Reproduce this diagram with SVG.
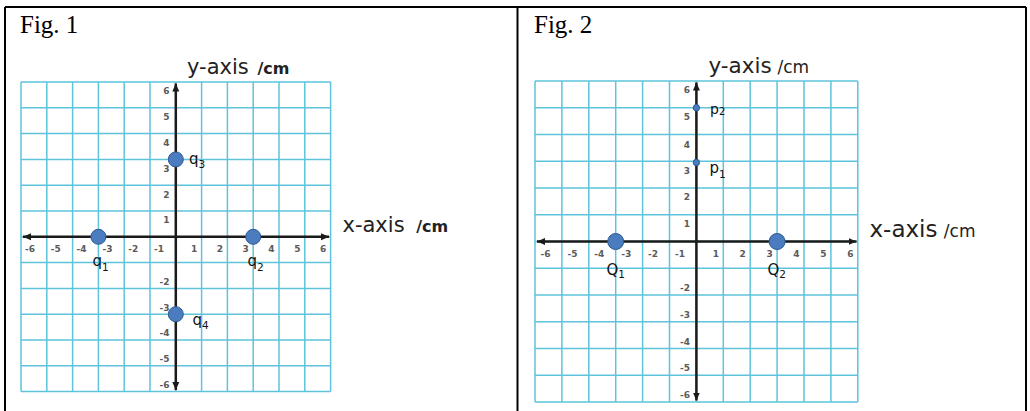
<svg xmlns="http://www.w3.org/2000/svg" width="1030" height="411" viewBox="0 0 1030 411">
<style>
.frame{fill:none;stroke:#000;stroke-width:2}
.grid{fill:none;stroke:#5ec4dc;stroke-width:1.5}
.axis{fill:none;stroke:#1a1a1a;stroke-width:2.5}
.tick{font-family:"DejaVu Sans",sans-serif;font-size:9px;font-weight:bold;fill:#5a5a5a}
.tx{text-anchor:middle}
.ty{text-anchor:end}
.title{font-family:"Liberation Serif",serif;font-size:25px;fill:#000}
.ax{font-family:"DejaVu Sans",sans-serif;fill:#222}
.lab{font-family:"DejaVu Sans",sans-serif;fill:#111}
.pt{fill:#4a7cbf;stroke:#2d5a92;stroke-width:1}
</style>
<defs>
<marker id="arr" markerUnits="userSpaceOnUse" markerWidth="10" markerHeight="10" refX="8" refY="4" orient="auto-start-reverse" viewBox="0 0 10 8">
<path d="M0,0.5 L8,4 L0,7.5 z" fill="#1a1a1a"/>
</marker>
</defs>
<rect width="1030" height="411" fill="#fff"/>
<g id="frame">
<path class="frame" d="M5,7 H1026 M5,7 V411 M517.5,7 V411 M1026,7 V411"/>
</g>
<g id="fig1">
<text class="title" x="20" y="33">Fig. 1</text>
<path class="grid" d="M21,82V391.6M46.8,82V391.6M72.6,82V391.6M98.4,82V391.6M124.2,82V391.6M150,82V391.6M175.8,82V391.6M201.6,82V391.6M227.4,82V391.6M253.2,82V391.6M279,82V391.6M304.8,82V391.6M330.6,82V391.6M21,82H330.6M21,107.8H330.6M21,133.6H330.6M21,159.4H330.6M21,185.2H330.6M21,211H330.6M21,236.8H330.6M21,262.6H330.6M21,288.4H330.6M21,314.2H330.6M21,340H330.6M21,365.8H330.6M21,391.6H330.6"/>
<g class="tick tx">
<text x="30" y="251.6">-6</text><text x="55.8" y="251.6">-5</text><text x="81.6" y="251.6">-4</text><text x="107.4" y="251.6">-3</text><text x="133.2" y="251.6">-2</text><text x="159" y="251.6">-1</text>
<text x="194.1" y="251.6">1</text><text x="219.9" y="251.6">2</text><text x="245.7" y="251.6">3</text><text x="271.5" y="251.6">4</text><text x="297.3" y="251.6">5</text><text x="323.1" y="251.6">6</text>
</g>
<g class="tick ty">
<text x="169.5" y="93.5">6</text><text x="169.5" y="120.1">5</text><text x="169.5" y="145.9">4</text><text x="169.5" y="171.7">3</text><text x="169.5" y="197.5">2</text><text x="169.5" y="223.3">1</text>
<text x="169.5" y="284.7">-2</text><text x="169.5" y="310.5">-3</text><text x="169.5" y="336.3">-4</text><text x="169.5" y="362.1">-5</text><text x="169.5" y="387.9">-6</text>
</g>
<text class="ax" x="187" y="74.3" font-size="21">y-axis <tspan font-size="16" font-weight="bold" dx="2">/cm</tspan></text>
<text class="ax" x="342.5" y="231.5" font-size="21">x-axis <tspan font-size="16" font-weight="bold" dx="5">/cm</tspan></text>
</g>
<g id="fig2">
<text class="title" x="534" y="33">Fig. 2</text>
<path class="grid" d="M535,81V402M561.9,81V402M588.8,81V402M615.7,81V402M642.6,81V402M669.5,81V402M696.4,81V402M723.3,81V402M750.2,81V402M777.1,81V402M804,81V402M830.9,81V402M857.8,81V402M535,81H857.8M535,107.75H857.8M535,134.5H857.8M535,161.25H857.8M535,188H857.8M535,214.75H857.8M535,241.5H857.8M535,268.25H857.8M535,295H857.8M535,321.75H857.8M535,348.5H857.8M535,375.25H857.8M535,402H857.8"/>
<g class="tick tx">
<text x="545.5" y="256.6">-6</text><text x="572.4" y="256.6">-5</text><text x="599.3" y="256.6">-4</text><text x="626.2" y="256.6">-3</text><text x="653.1" y="256.6">-2</text><text x="680" y="256.6">-1</text>
<text x="715.8" y="256.6">1</text><text x="742.7" y="256.6">2</text><text x="769.6" y="256.6">3</text><text x="796.5" y="256.6">4</text><text x="823.4" y="256.6">5</text><text x="850.3" y="256.6">6</text>
</g>
<g class="tick ty">
<text x="690" y="93">6</text><text x="690" y="120.3">5</text><text x="690" y="147.5">4</text><text x="690" y="173.5">3</text><text x="690" y="200">2</text><text x="690" y="227">1</text>
<text x="690" y="291.3">-2</text><text x="690" y="317.8">-3</text><text x="690" y="344.5">-4</text><text x="690" y="371">-5</text><text x="690" y="397.5">-6</text>
</g>
<text class="ax" x="708.5" y="73.3" font-size="21.5">y-axis <tspan font-size="17" dx="-1">/cm</tspan></text>
<text class="ax" x="869.5" y="237.3" font-size="23">x-axis <tspan font-size="17" dx="-1">/cm</tspan></text>
</g>
<g id="connectors">
<path class="axis" d="M23,236.8H329" marker-start="url(#arr)" marker-end="url(#arr)"/>
<path class="axis" d="M175.8,83.5V390" marker-start="url(#arr)" marker-end="url(#arr)"/>
<path class="axis" d="M537,241.5H856.5" marker-start="url(#arr)" marker-end="url(#arr)"/>
<path class="axis" d="M696.4,82.5V400.5" marker-start="url(#arr)" marker-end="url(#arr)"/>
</g>
<g id="q1"><circle class="pt" cx="98.4" cy="236.8" r="7.5"/><text class="lab" x="92.5" y="266" font-size="15">q<tspan font-size="10.5" dy="4.5">1</tspan></text></g>
<g id="q2"><circle class="pt" cx="253.2" cy="236.8" r="7.5"/><text class="lab" x="247.5" y="266" font-size="15">q<tspan font-size="10.5" dy="4.5">2</tspan></text></g>
<g id="q3"><circle class="pt" cx="175.8" cy="159.4" r="7.5"/><text class="lab" x="189" y="163.5" font-size="15">q<tspan font-size="10.5" dy="4.2">3</tspan></text></g>
<g id="q4"><circle class="pt" cx="175.8" cy="314.2" r="7.5"/><text class="lab" x="192.5" y="325" font-size="15">q<tspan font-size="10.5" dy="3.5">4</tspan></text></g>
<g id="Q1"><circle class="pt" cx="615.7" cy="241.5" r="8"/><text class="lab" x="606.5" y="274.5" font-size="15">Q<tspan font-size="10.5" dy="3.5">1</tspan></text></g>
<g id="Q2"><circle class="pt" cx="777.1" cy="241.5" r="8"/><text class="lab" x="767.5" y="274.5" font-size="15">Q<tspan font-size="10.5" dy="3.5">2</tspan></text></g>
<g id="p1"><circle class="pt" cx="696.4" cy="162.5" r="3.2"/><text class="lab" x="709.5" y="173" font-size="15">p<tspan font-size="10.5" dy="4.5">1</tspan></text></g>
<g id="p2"><circle class="pt" cx="696.4" cy="107.75" r="3.2"/><text class="lab" x="710" y="113.5" font-size="14">p<tspan font-size="10" dy="1.5">2</tspan></text></g>
</svg>
